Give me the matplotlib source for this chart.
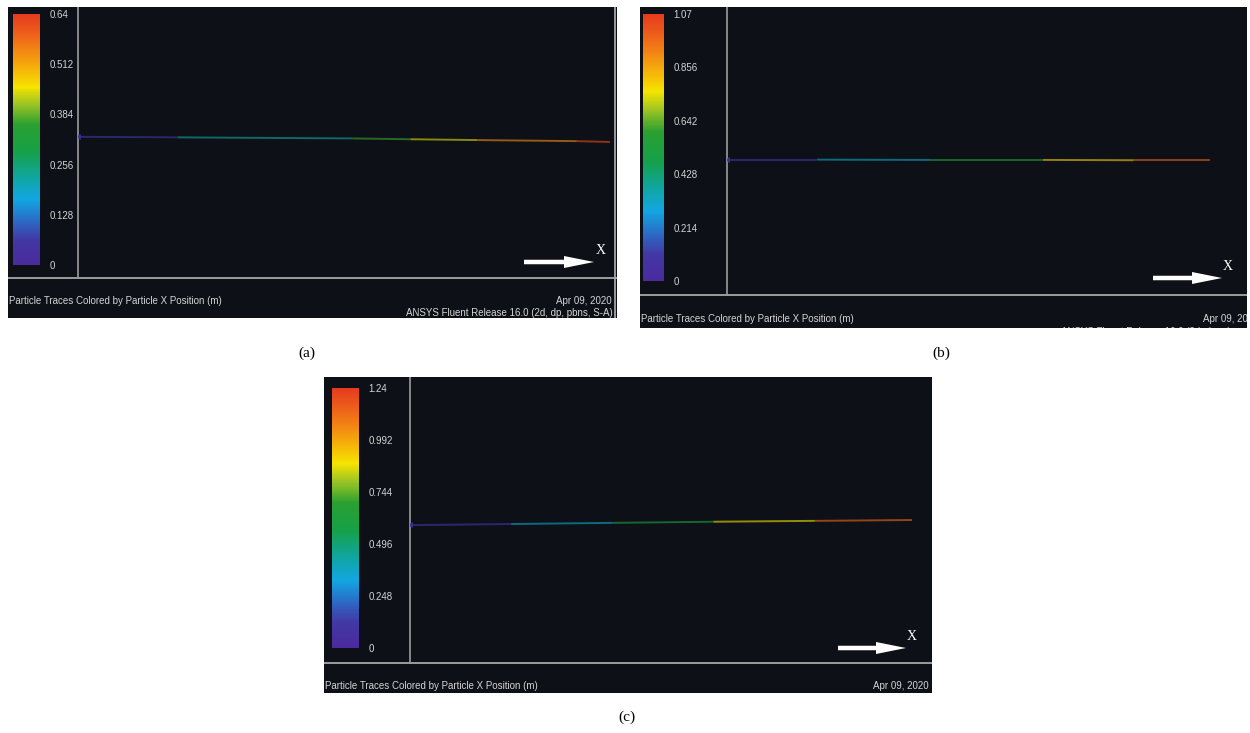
import matplotlib
matplotlib.use("Agg")
import matplotlib.pyplot as plt
import numpy as np
from matplotlib.collections import LineCollection
from matplotlib.colors import LinearSegmentedColormap, Normalize
from matplotlib.cm import ScalarMappable
from matplotlib.patches import FancyArrow

plt.rcParams['font.family'] = ['Liberation Sans', 'DejaVu Sans']

# colour scale maxima (particle X position, m)
x_max = [0.64, 1.07, 1.24]
tick_vals = [
    [0, 0.128, 0.256, 0.384, 0.512, 0.64],
    [0, 0.214, 0.428, 0.642, 0.856, 1.07],
    [0, 0.248, 0.496, 0.744, 0.992, 1.24],
]
tick_labels = [
    ["0", "0.128", "0.256", "0.384", "0.512", "0.64"],
    ["0", "0.214", "0.428", "0.642", "0.856", "1.07"],
    ["0", "0.248", "0.496", "0.744", "0.992", "1.24"],
]

# particle traces: x position (m) and relative height in the view
trace_a_x = [0, 0.12, 0.33, 0.40, 0.48, 0.60, 0.64]
trace_a_y = [0.521, 0.519, 0.515, 0.512, 0.509, 0.505, 0.502]
trace_b_x = [0, 0.20, 0.45, 0.70, 0.90, 1.07]
trace_b_y = [0.470, 0.470, 0.469, 0.469, 0.468, 0.468]
trace_c_x = [0, 0.25, 0.50, 0.75, 1.00, 1.24]
trace_c_y = [0.482, 0.486, 0.490, 0.494, 0.497, 0.500]
traces = [(trace_a_x, trace_a_y), (trace_b_x, trace_b_y), (trace_c_x, trace_c_y)]

caption = "Particle Traces Colored by Particle X Position (m)"
date_text = "Apr 09, 2020"
ansys_text = "ANSYS Fluent Release 16.0 (2d, dp, pbns, S-A)"
panel_labels = ["(a)", "(b)", "(c)"]

fluent = LinearSegmentedColormap.from_list("fluent", [
    (0.00, "#4a2a9c"), (0.10, "#4238a4"), (0.18, "#2a6ec8"), (0.26, "#12a6e2"),
    (0.35, "#10a6a0"), (0.45, "#16a048"), (0.56, "#2aa030"), (0.64, "#9cc424"),
    (0.71, "#f6e400"), (0.80, "#f5a80c"), (0.90, "#ef6c18"), (1.00, "#e63a1e"),
])

W, H = 1250, 733
fig = plt.figure(figsize=(12.5, 7.33), dpi=100)
fig.patch.set_facecolor("white")


def px_axes(x0, y0, x1, y1):
    return fig.add_axes([x0 / W, 1 - y1 / H, (x1 - x0) / W, (y1 - y0) / H])


layout = [
    dict(box=(8, 7, 617, 318), vline=78, div=278, cbar=(13, 14, 40, 265), end=610,
         arrow=(524, 262, 594), xlab=(596, 250), cap_y=301, date_x=612, ansys=(613, 313),
         edge=True, label=(307, 353)),
    dict(box=(640, 7, 1247, 328), vline=727, div=295, cbar=(643, 14, 664, 281), end=1210,
         arrow=(1153, 278, 1222), xlab=(1223, 266), cap_y=319, date_x=1259, ansys=(1268, 332),
         edge=False, label=(941, 353)),
    dict(box=(324, 377, 932, 693), vline=410, div=663, cbar=(332, 388, 359, 648), end=912,
         arrow=(838, 648, 906), xlab=(907, 637), cap_y=686, date_x=929, ansys=None,
         edge=False, label=(627, 717)),
]

bg_col = "#0d1017"
line_col = "#9c9c9c"
text_col = "#d4d4d4"

for i, lay in enumerate(layout):
    x0, y0, x1, y1 = lay["box"]
    bg = px_axes(x0, y0, x1, y1)
    bg.set_xlim(x0, x1)
    bg.set_ylim(y1, y0)
    bg.set_facecolor(bg_col)
    bg.set_xticks([])
    bg.set_yticks([])
    for s in bg.spines.values():
        s.set_visible(False)

    bg.plot([lay["vline"], lay["vline"]], [y0, lay["div"]], color=line_col, lw=1.2)
    bg.plot([x0, x1], [lay["div"], lay["div"]], color=line_col, lw=1.4)
    if lay["edge"]:
        bg.plot([x1 - 2, x1 - 2], [y0, y1], color="#b0b0b0", lw=1.2)

    bg.text(x0 + 1, lay["cap_y"], caption, color=text_col, fontsize=7,
            ha="left", va="center", clip_on=True)
    bg.text(lay["date_x"], lay["cap_y"], date_text, color=text_col, fontsize=7,
            ha="right", va="center", clip_on=True)
    if lay["ansys"] is not None:
        bg.text(lay["ansys"][0], lay["ansys"][1], ansys_text, color=text_col, fontsize=7,
                ha="right", va="center", clip_on=True)

    ax0, ay, ax1 = lay["arrow"]
    bg.add_patch(FancyArrow(ax0, ay, ax1 - ax0, 0, width=4.5, head_width=12,
                            head_length=30, length_includes_head=True,
                            color="white", lw=0))
    bg.text(lay["xlab"][0], lay["xlab"][1], "X", color="white", fontsize=10,
            family="Liberation Serif", ha="left", va="center")

    # particle trace
    xs, ys = traces[i]
    pa = px_axes(lay["vline"], y0, x1, lay["div"])
    pa.set_xlim(0, x_max[i] * (x1 - lay["vline"]) / (lay["end"] - lay["vline"]))
    pa.set_ylim(0, 1)
    pa.axis("off")
    pts = np.column_stack([xs, ys])
    segs = np.stack([pts[:-1], pts[1:]], axis=1)
    norm = Normalize(0, x_max[i])
    lc = LineCollection(segs, cmap=fluent, norm=norm, linewidths=1.4, alpha=0.6)
    lc.set_array((np.array(xs[:-1]) + np.array(xs[1:])) / 2)
    pa.add_collection(lc)
    pa.plot(xs[0], ys[0], marker="<", color="#4030a0", ms=4, mew=0, alpha=0.8)

    # colour bar
    cx0, cy0, cx1, cy1 = lay["cbar"]
    cax = px_axes(cx0, cy0, cx1, cy1)
    cb = fig.colorbar(ScalarMappable(norm=norm, cmap=fluent), cax=cax, ticks=tick_vals[i])
    cb.set_ticklabels(tick_labels[i])
    cb.outline.set_visible(False)
    cax.tick_params(length=0, pad=7, labelsize=7, labelcolor=text_col)

    fig.text(lay["label"][0] / W, 1 - lay["label"][1] / H, panel_labels[i],
             family="Liberation Serif", fontsize=11, ha="center", va="center", color="black")

fig.savefig("out.png", dpi=100, facecolor="white")
